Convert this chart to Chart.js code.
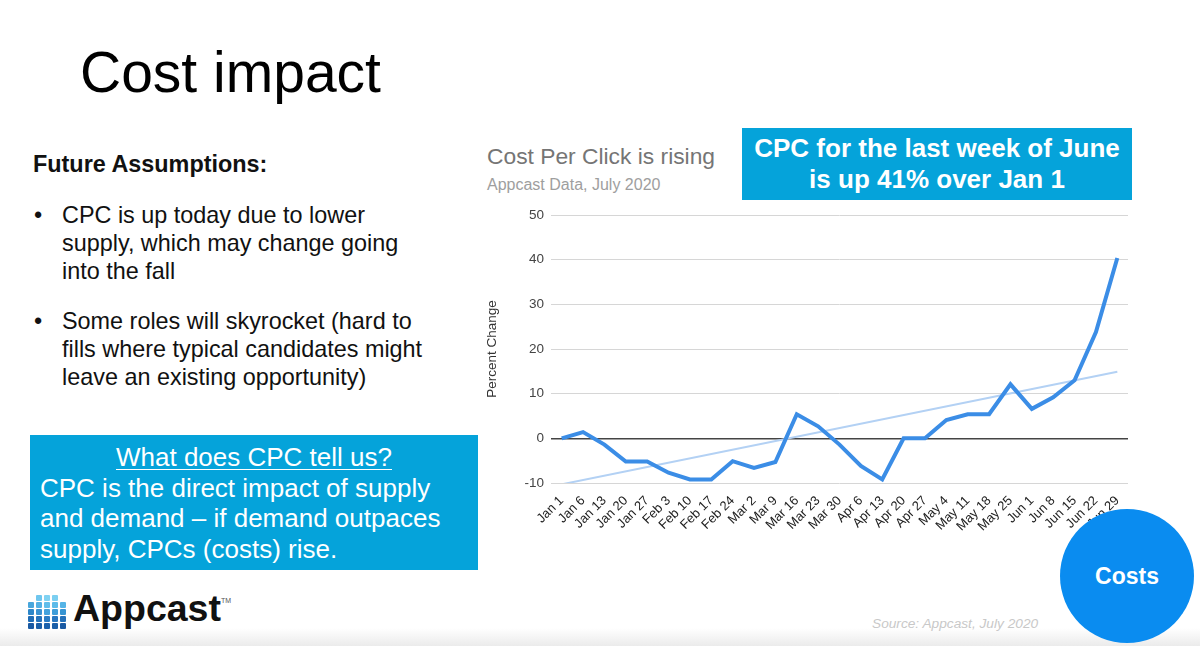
<!DOCTYPE html>
<html>
<head>
<meta charset="utf-8">
<script src="https://cdn.jsdelivr.net/npm/chart.js@4.4.1/dist/chart.umd.min.js"></script>
<style>
  body { margin: 0; width: 1200px; height: 646px; background: #fff; font-family: "Liberation Sans", Arial, sans-serif; position: relative; overflow: hidden; }
  .abs { position: absolute; }
  #title { left: 80px; top: 39px; font-size: 57px; color: #000; line-height: normal; }
  #future { left: 33px; top: 151px; font-size: 23.4px; font-weight: bold; color: #111; }
  .bullet { left: 34px; font-size: 23.4px; line-height: 28px; color: #111; width: 400px; }
  .bullet span.dot { position: absolute; left: 0; }
  .bullet div.txt { margin-left: 28px; }
  #cpcbox { left: 30px; top: 435px; width: 448px; height: 135px; background: #05a3da; color: #fff; font-size: 26px; line-height: 30.7px; }
  #cpcbox .h { text-align: center; text-decoration: underline; text-decoration-thickness: 1px; text-underline-offset: 3px; margin-top: 7px; }
  #cpcbox .b { padding-left: 10px; width: 420px; }
  #callout { left: 742px; top: 128px; width: 390px; height: 72px; background: #05a3da; color: #fff; font-weight: bold; font-size: 26px; line-height: 31px; text-align: center; padding-top: 5px; box-sizing: border-box; }
  #ctitle { left: 487px; top: 143px; font-size: 22.8px; color: #757575; }
  #csub { left: 487px; top: 176px; font-size: 16px; color: #9e9e9e; }
  #chartbox { left: 480px; top: 200px; width: 660px; height: 340px; }
  #costs { left: 1060px; top: 509px; width: 134px; height: 134px; border-radius: 50%; background: #0a8cf0; color: #fff; font-weight: bold; font-size: 23px; text-align: center; line-height: 134px; }
  #source { left: 872px; top: 616px; font-size: 13.7px; font-style: italic; color: #c8c8c8; }
  #logo { left: 73px; top: 587px; font-size: 37.5px; font-weight: bold; color: #111; line-height: normal; }
  #tm { left: 221px; top: 597px; font-size: 7px; color: #555; }
  #shade { left: 0; top: 628px; width: 1200px; height: 18px; background: linear-gradient(#fff, #ebebeb); }
</style>
</head>
<body>
<div id="shade" class="abs"></div>
<div id="title" class="abs">Cost impact</div>
<div id="future" class="abs">Future Assumptions:</div>
<div class="abs bullet" style="top:201px"><span class="dot">•</span><div class="txt">CPC is up today due to lower supply, which may change going into the fall</div></div>
<div class="abs bullet" style="top:307px"><span class="dot">•</span><div class="txt">Some roles will skyrocket (hard to fills where typical candidates might leave an existing opportunity)</div></div>
<div id="cpcbox" class="abs">
  <div class="h">What does CPC tell us?</div>
  <div class="b">CPC is the direct impact of supply and demand – if demand outpaces supply, CPCs (costs) rise.</div>
</div>
<svg class="abs" style="left:28px;top:594px" width="42" height="40">
  <g id="icon"></g>
</svg>
<div id="logo" class="abs">Appcast</div>
<div id="tm" class="abs">TM</div>

<div id="ctitle" class="abs">Cost Per Click is rising</div>
<div id="csub" class="abs">Appcast Data, July 2020</div>
<div id="callout" class="abs">CPC for the last week of June<br>is up 41% over Jan 1</div>
<div id="chartbox" class="abs"><canvas id="chart"></canvas></div>
<div id="source" class="abs">Source: Appcast, July 2020</div>
<div id="costs" class="abs">Costs</div>

<script>
// weekly labels
const weeks = ['Jan 1', 'Jan 6', 'Jan 13', 'Jan 20', 'Jan 27', 'Feb 3', 'Feb 10', 'Feb 17', 'Feb 24',
  'Mar 2', 'Mar 9', 'Mar 16', 'Mar 23', 'Mar 30', 'Apr 6', 'Apr 13', 'Apr 20', 'Apr 27',
  'May 4', 'May 11', 'May 18', 'May 25', 'Jun 1', 'Jun 8', 'Jun 15', 'Jun 22', 'Jun 29'];

// percent change of CPC vs Jan 1
const cpcChange = [0, 1.4, -1.4, -5.2, -5.2, -7.7, -9.2, -9.2, -5.1,
  -6.6, -5.3, 5.4, 2.7, -1.4, -6.2, -9.2, 0, 0,
  4.1, 5.4, 5.4, 12.1, 6.6, 9.2, 13.0, 23.8, 40.4];

// trendline end values (first and last week)
const trendEnds = [-10.3, 14.9];

const yTicks = [-10, 0, 10, 20, 30, 40, 50];

// logo icon: small stacked squares, bottom to top
const iconCols = [
  ['#1a5aa3', '#1f6cb6', '#2c86c9', '#48a6dc'],
  ['#1b5fa8', '#2472bb', '#3892d2', '#52b0e4', '#6fc6ee'],
  ['#1c62ac', '#2a7cc4', '#42a2dd', '#60bdea', '#80d2f2'],
  ['#1b5fa8', '#2877c0', '#3f9ed9', '#5cbbe9', '#7bcff1'],
  ['#1a5aa3', '#2470b9', '#3694d3', '#55b4e6']
];
const g = document.getElementById('icon');
iconCols.forEach((col, i) => {
  col.forEach((c, j) => {
    const r = document.createElementNS('http://www.w3.org/2000/svg', 'rect');
    r.setAttribute('x', i * 8);
    r.setAttribute('y', 36 - (j + 1) * 7);
    r.setAttribute('width', 6);
    r.setAttribute('height', 6);
    r.setAttribute('rx', 1);
    r.setAttribute('fill', c);
    g.appendChild(r);
  });
});

const trendData = weeks.map((w, i) => i === 0 ? trendEnds[0] : (i === weeks.length - 1 ? trendEnds[1] : null));

new Chart(document.getElementById('chart'), {
  type: 'line',
  data: {
    labels: weeks,
    datasets: [
      {
        label: 'CPC',
        data: cpcChange,
        borderColor: '#3b8de6',
        borderWidth: 4,
        pointRadius: 0,
        tension: 0,
        order: 1
      },
      {
        label: 'Trend',
        data: trendData,
        borderColor: '#b3d1f4',
        borderWidth: 2,
        pointRadius: 0,
        spanGaps: true,
        order: 2
      }
    ]
  },
  options: {
    responsive: true,
    maintainAspectRatio: false,
    animation: false,
    layout: { padding: { top: 15, right: 12, left: 0, bottom: 0 } },
    plugins: { legend: { display: false }, tooltip: { enabled: false } },
    scales: {
      x: {
        offset: true,
        grid: { display: false },
        border: { display: false },
        ticks: {
          maxRotation: 45, minRotation: 45, autoSkip: false,
          color: '#222', padding: 2,
          font: { family: 'Liberation Sans', size: 13 }
        },
        afterFit: s => { s.height = 57; }
      },
      y: {
        min: -10, max: 50,
        afterBuildTicks: s => { s.ticks = yTicks.map(v => ({ value: v })); },
        grid: {
          drawTicks: false,
          color: c => c.tick && c.tick.value === 0 ? '#444' : '#d6d6d6',
          lineWidth: c => c.tick && c.tick.value === 0 ? 1.5 : 1
        },
        border: { display: false },
        ticks: { color: '#444', padding: 7, font: { family: 'Liberation Sans', size: 13.5 } },
        title: { display: true, text: 'Percent Change', color: '#333', font: { family: 'Liberation Sans', size: 13.5 } },
        afterFit: s => { s.width = 71; }
      }
    }
  }
});
</script>
</body>
</html>
